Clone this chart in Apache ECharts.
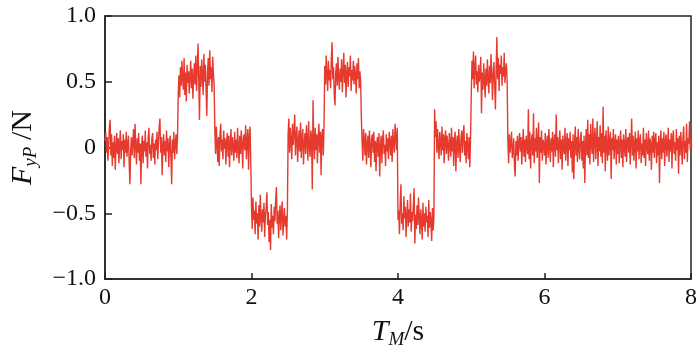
<!DOCTYPE html>
<html>
<head>
<meta charset="utf-8">
<script src="https://cdn.jsdelivr.net/npm/echarts@6/dist/echarts.min.js"></script>
<style>
html,body{margin:0;padding:0;background:#fff;}
#chart{width:700px;height:362px;}
</style>
</head>
<body>
<div id="chart"></div>
<script>
// Sampling of the recorded signal (s)
const sampleStart = 0;
const sampleStep = 0.01;

// F_yP values (N), one array per half second
const s00 = [0.05,0.12,-0.04,0.08,-0.10,0.02,0.15,0.21,-0.06,0.10,
-0.14,0.04,-0.08,0.09,-0.17,0.01,0.11,-0.05,0.07,-0.12,
0.03,0.13,-0.09,0.05,-0.02,0.10,-0.15,0.06,-0.04,0.12,
-0.07,0.02,0.09,-0.11,-0.28,-0.03,0.08,-0.06,0.04,0.14,
-0.08,0.18,0.01,-0.13,0.07,-0.04,0.11,-0.10,0.03,-0.28];
const s05 = [0.02,0.09,-0.12,0.05,-0.03,0.13,-0.07,0.04,-0.16,0.08,
0.15,-0.05,0.02,-0.10,0.07,0.11,-0.08,0.03,-0.13,0.06,
-0.02,0.12,-0.09,0.04,0.16,0.22,-0.04,0.08,-0.21,0.01,
0.10,-0.06,0.05,-0.11,0.13,-0.03,0.07,-0.15,0.02,0.09,
-0.07,-0.28,0.06,-0.04,0.12,-0.09,0.03,0.10,-0.05,0.08];
const s10 = [0.42,0.55,0.38,0.61,0.47,0.66,0.52,0.44,0.68,0.40,
0.57,0.35,0.63,0.49,0.58,0.41,0.54,0.66,0.45,0.60,
0.37,0.53,0.64,0.48,0.70,0.43,0.59,0.79,0.51,0.21,
0.62,0.46,0.67,0.55,0.40,0.71,0.50,0.63,0.44,0.24,
0.58,0.68,0.47,0.74,0.52,0.61,0.42,0.69,0.56,0.48];
const s15 = [0.12,-0.05,0.16,0.02,-0.11,0.08,-0.14,0.10,0.18,-0.03,
0.06,-0.09,0.13,-0.01,0.07,-0.13,0.04,0.11,-0.07,0.09,
-0.15,0.03,0.14,-0.06,0.08,0.01,-0.10,0.12,-0.04,0.06,
-0.08,0.15,0.00,-0.12,0.09,-0.05,0.13,0.03,-0.16,0.07,
0.10,-0.02,0.17,-0.09,0.05,0.14,-0.17,0.08,0.16,-0.11];
const s20 = [-0.45,-0.62,-0.38,-0.55,-0.48,-0.66,-0.41,-0.58,-0.50,-0.70,
-0.44,-0.60,-0.36,-0.53,-0.64,-0.47,-0.57,-0.42,-0.68,-0.51,
-0.46,-0.34,-0.59,-0.49,-0.72,-0.55,-0.78,-0.43,-0.61,-0.52,
-0.66,-0.45,-0.56,-0.40,-0.30,-0.58,-0.48,-0.69,-0.53,-0.44,
-0.63,-0.50,-0.41,-0.67,-0.55,-0.46,-0.60,-0.52,-0.70,-0.48];
const s25 = [0.10,0.22,-0.04,0.15,0.05,-0.09,0.18,0.02,0.12,0.25,
-0.06,0.09,0.16,-0.11,0.04,0.13,-0.03,0.19,-0.08,0.07,
0.14,-0.13,0.03,0.11,-0.05,0.17,0.06,-0.10,0.20,0.01,
-0.07,0.13,0.08,-0.32,0.36,0.04,-0.09,0.15,-0.02,0.10,
-0.12,0.07,0.18,-0.04,0.12,-0.21,0.09,0.14,-0.06,0.16];
const s30 = [0.62,0.48,0.70,0.55,0.43,0.66,0.51,0.59,0.45,0.68,
0.80,0.52,0.61,0.40,0.32,0.57,0.64,0.47,0.69,0.53,
0.44,0.60,0.50,0.67,0.42,0.58,0.72,0.49,0.63,0.38,
0.56,0.65,0.46,0.61,0.54,0.70,0.43,0.59,0.51,0.66,
0.48,0.62,0.55,0.41,0.64,0.52,0.68,0.45,0.58,0.50];
const s35 = [0.22,0.04,-0.10,0.14,0.06,-0.06,0.11,-0.13,0.02,0.09,
-0.08,0.13,0.00,-0.15,0.07,0.10,-0.04,0.12,-0.11,0.05,
-0.18,0.03,0.08,-0.07,0.11,-0.22,0.01,0.09,-0.12,0.06,
0.13,-0.05,0.02,-0.14,0.10,-0.03,0.07,-0.09,0.12,0.04,
-0.06,0.09,-0.11,0.14,0.03,-0.04,0.18,0.08,-0.02,0.15];
const s40 = [-0.55,-0.48,-0.66,-0.42,-0.28,-0.58,-0.50,-0.63,-0.37,-0.54,
-0.45,-0.68,-0.52,-0.40,-0.60,-0.47,-0.57,-0.35,-0.64,-0.49,
-0.56,-0.43,-0.31,-0.73,-0.51,-0.62,-0.44,-0.59,-0.38,-0.53,
-0.66,-0.47,-0.55,-0.70,-0.42,-0.60,-0.50,-0.64,-0.45,-0.57,
-0.52,-0.68,-0.40,-0.61,-0.49,-0.56,-0.71,-0.46,-0.63,-0.53];
const s45 = [0.29,0.08,0.20,-0.04,0.14,0.02,-0.09,0.12,0.05,-0.06,
0.16,-0.02,0.10,-0.12,0.07,0.13,-0.05,0.09,0.01,-0.10,
0.11,0.04,-0.07,0.15,-0.03,0.08,-0.14,0.06,0.12,-0.18,
0.03,0.09,-0.08,0.14,0.00,-0.11,0.07,0.13,-0.04,0.10,
0.17,-0.06,0.05,-0.12,0.11,0.02,-0.09,0.08,-0.15,0.06];
const s50 = [0.40,0.66,0.52,0.73,0.45,0.61,0.70,0.48,0.58,0.42,
0.63,0.50,0.55,0.69,0.26,0.57,0.44,0.64,0.51,0.38,
0.60,0.47,0.67,0.53,0.41,0.62,0.49,0.71,0.55,0.36,
0.58,0.65,0.46,0.29,0.60,0.84,0.52,0.68,0.43,0.63,
0.56,0.70,0.47,0.61,0.54,0.72,0.49,0.59,0.64,0.51];
const s55 = [0.06,-0.12,0.10,-0.04,0.03,0.12,-0.08,-0.02,0.07,-0.14,
-0.22,0.05,-0.06,0.09,-0.10,0.04,0.11,-0.03,0.08,-0.13,
0.02,0.14,-0.07,0.06,-0.11,0.09,0.01,-0.05,0.29,-0.09,
0.12,-0.16,0.04,0.10,-0.06,0.26,-0.12,0.07,-0.03,0.15,
-0.08,0.05,0.19,-0.27,0.08,-0.04,0.13,-0.10,0.06,0.02];
const s60 = [-0.06,0.11,-0.13,0.04,0.09,-0.08,0.14,0.02,-0.11,0.07,
-0.03,0.12,-0.15,0.05,0.10,-0.07,0.25,-0.02,0.08,-0.12,
0.03,0.13,-0.09,0.06,-0.17,0.09,0.01,-0.05,0.15,-0.10,
0.04,0.11,-0.14,0.07,-0.02,0.12,-0.08,0.05,-0.19,0.10,
-0.24,0.03,0.16,-0.06,0.08,-0.11,0.14,0.00,-0.09,0.07];
const s65 = [0.12,-0.10,0.05,-0.16,0.09,-0.27,0.02,0.14,-0.06,0.21,
-0.08,0.10,-0.13,0.18,0.03,-0.05,0.22,-0.11,0.07,0.15,
-0.09,0.04,0.20,-0.14,0.08,-0.03,0.17,-0.07,0.11,-0.12,
0.31,-0.04,0.09,-0.18,0.13,0.01,-0.10,0.16,-0.06,0.05,
0.12,-0.24,0.07,-0.02,0.14,-0.09,0.04,0.10,-0.13,0.06];
const s70 = [-0.05,0.09,-0.12,0.03,0.13,-0.08,0.06,-0.15,0.10,0.01,
-0.07,0.14,-0.11,0.05,0.08,-0.04,0.11,-0.13,0.04,0.22,
-0.06,0.09,-0.10,0.02,0.12,-0.16,0.07,-0.03,0.13,-0.09,
0.05,0.10,-0.12,0.03,-0.06,0.15,-0.08,0.06,-0.14,0.11,
0.00,-0.05,0.13,-0.10,0.07,0.02,-0.17,0.09,-0.04,0.12];
const s75 = [-0.08,0.06,0.11,-0.12,0.04,-0.06,0.09,-0.27,0.03,0.13,
-0.09,0.07,-0.04,0.12,-0.14,0.05,0.10,-0.07,0.02,0.15,
-0.11,0.06,-0.03,0.11,-0.16,0.08,0.13,-0.05,0.04,-0.10,
0.14,-0.02,0.07,-0.20,0.09,-0.06,0.12,0.01,-0.13,0.08,
0.16,-0.09,0.05,-0.04,0.18,-0.11,0.07,0.03,0.20,-0.02,0.06];

const xTickLabels = ['0','2','4','6','8'];
const yTickLabels = ['\u22121.0','\u22120.5','0','0.5','1.0'];

const fy = [].concat(s00,s05,s10,s15,s20,s25,s30,s35,s40,s45,s50,s55,s60,s65,s70,s75);
const seriesData = fy.map((v,i)=>[+(sampleStart + i*sampleStep).toFixed(2), v]);

const serif = "Liberation Serif";
const axisColor = '#222';
const nameRich = {
  i:{fontFamily:serif,fontStyle:'italic',fontSize:30,color:'#111',lineHeight:34},
  sub:{fontFamily:serif,fontStyle:'italic',fontSize:19,color:'#111',verticalAlign:'bottom',lineHeight:14},
  n:{fontFamily:serif,fontSize:30,color:'#111',lineHeight:34}
};
const chart = echarts.init(document.getElementById('chart'), null, {renderer:'canvas'});
chart.setOption({
  animation:false,
  backgroundColor:'#fff',
  grid:{left:104,right:8,top:16,bottom:83,show:true,borderColor:axisColor,borderWidth:1.5,backgroundColor:'transparent'},
  xAxis:{
    type:'value',min:0,max:8,interval:2,
    axisLine:{show:true,onZero:false,lineStyle:{color:axisColor,width:1.5}},
    axisTick:{show:true,inside:true,length:6,lineStyle:{color:axisColor,width:1.5}},
    splitLine:{show:false},
    axisLabel:{fontFamily:serif,fontSize:24,color:'#111',margin:7,
      formatter:(v)=>xTickLabels[Math.round(v/2)]},
    name:'{i|T}{sub|M}{n|/s}',
    nameLocation:'middle',nameGap:36,
    nameTextStyle:{rich:nameRich}
  },
  yAxis:{
    type:'value',min:-1,max:1,interval:0.5,
    axisLine:{show:true,onZero:false,lineStyle:{color:axisColor,width:1.5}},
    axisTick:{show:true,inside:true,length:7,lineStyle:{color:axisColor,width:1.5}},
    splitLine:{show:false},
    axisLabel:{fontFamily:serif,fontSize:24,color:'#111',margin:9,
      formatter:(v)=>yTickLabels[Math.round((v+1)/0.5)]},
    name:'{i|F}{sub|yP}  {n|/N}',
    nameLocation:'middle',nameGap:65,nameRotate:90,
    nameTextStyle:{rich:nameRich}
  },
  series:[{
    type:'line',data:seriesData,showSymbol:false,sampling:false,
    lineStyle:{color:'#e63a2e',width:1.4},
    itemStyle:{color:'#e63a2e'}
  }]
});
</script>
</body>
</html>
